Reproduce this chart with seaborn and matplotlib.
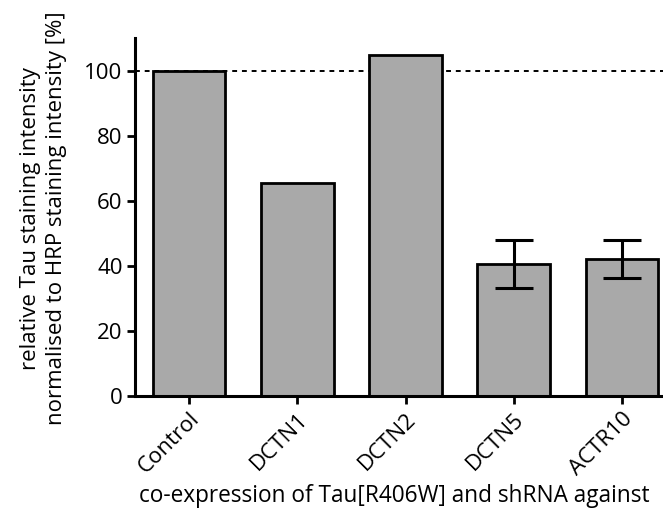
import numpy as np
import matplotlib
matplotlib.use("Agg")
import matplotlib.pyplot as plt
import seaborn as sns

categories = ["Control", "DCTN1", "DCTN2", "DCTN5", "ACTR10"]
values = [100, 65.5, 104.7, 40.5, 42.1]
errors = [np.nan, np.nan, np.nan, 7.3, 5.8]
yticks = [0, 20, 40, 60, 80, 100]

sns.set_theme(style="ticks")
plt.rcParams['font.family'] = ['Open Sans', 'DejaVu Sans']

fig = plt.figure(figsize=(6.63, 5.17), dpi=100)
ax = fig.add_axes([135/663, 121/517, 541/663, 358/517])

sns.barplot(x=categories, y=values, color="#a9a9a9", saturation=1,
            edgecolor="black", linewidth=2, width=0.67, ax=ax, zorder=2)

err = np.array(errors, dtype=float)
mask = np.isfinite(err)
xs = np.arange(len(categories))
ax.errorbar(xs[mask], np.array(values)[mask], yerr=err[mask], fmt="none",
            ecolor="black", elinewidth=2.2, capsize=13.5, capthick=2.2, zorder=3)

ax.axhline(100, color="black", lw=1.4, ls=(0, (2.5, 2.5)), zorder=1)

ax.set_xlim(-0.5, 4.5)
ax.set_ylim(0, 110)
ax.set_yticks(yticks)
ax.set_yticklabels([str(t) for t in yticks], fontsize=16)
ax.set_xticks(xs)
ax.set_xticklabels(categories, rotation=45, ha="right", rotation_mode="anchor", fontsize=16)

for s in ["top", "right"]:
    ax.spines[s].set_visible(False)
for s in ["left", "bottom"]:
    ax.spines[s].set_linewidth(2.2)
    ax.spines[s].set_color("black")
ax.tick_params(axis="both", direction="out", length=6, width=2, color="black", labelcolor="black", pad=3)

ax.set_ylabel("relative Tau staining intensity\nnormalised to HRP staining intensity [%]",
              fontsize=16, color="black", linespacing=1.3)
ax.yaxis.set_label_coords(-0.126, 0.497)
ax.set_xlabel("co-expression of Tau[R406W] and shRNA against", fontsize=16.3, color="black")
ax.xaxis.set_label_coords(0.48, -0.245)
ax.xaxis.label.set_va("top")

fig.savefig("out.png", dpi=100)
